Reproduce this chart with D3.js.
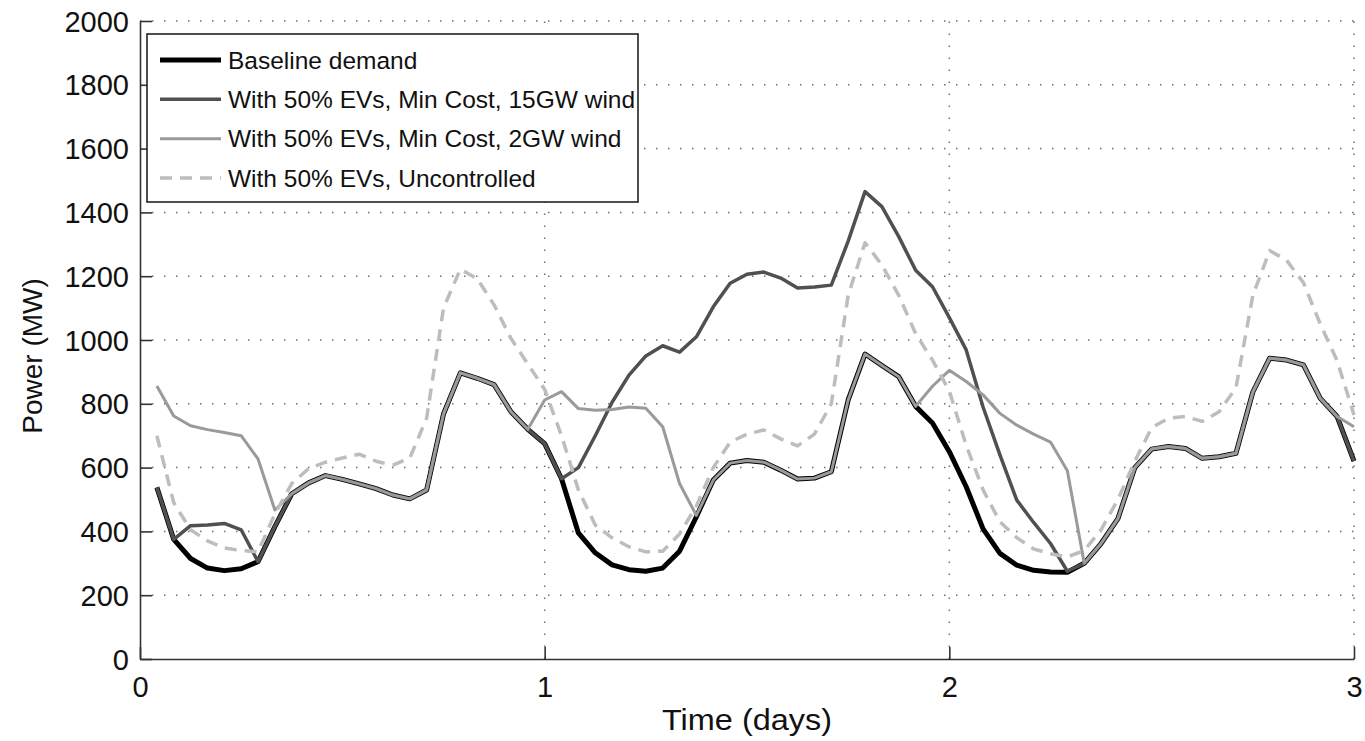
<!DOCTYPE html>
<html>
<head>
<meta charset="utf-8">
<script src="https://cdn.jsdelivr.net/npm/d3@7"></script>
<style>
  html, body { margin: 0; padding: 0; background: #fff; }
  svg { display: block; font-family: "Liberation Sans", Arial, Helvetica, sans-serif; }
</style>
</head>
<body>
<svg id="chart" width="1365" height="741"></svg>
<script>
// Hourly samples over three days (hour 1 .. 72)
const hourIndex = d3.range(1, 73);

// Power demand in MW, one value per hour
const baselineDemand = [
  538, 375, 315, 285, 277, 283, 305, 415, 518, 552, 575, 563,
  549, 534, 514, 502, 530, 768, 897, 880, 860, 775, 720, 675,
  565, 395, 333, 295, 280, 275, 285, 338, 446, 561, 614, 622,
  617, 592, 564, 567, 587, 812, 956, 920, 885, 792, 740, 650,
  540, 408, 331, 294, 278, 273, 272, 300, 362, 440, 600, 658,
  666, 660, 629, 634, 645, 837, 943, 937, 922, 817, 760, 620
];

const minCost15GW = [
  538, 375, 418, 420, 425, 405, 305, 415, 518, 552, 575, 563,
  549, 534, 514, 502, 530, 768, 897, 880, 860, 775, 720, 675,
  565, 600, 700, 805, 890, 950, 982, 962, 1010, 1104, 1178, 1206,
  1213, 1194, 1163, 1166, 1172, 1310, 1465, 1418, 1324, 1219, 1167, 1070,
  969, 790, 640, 498, 428, 362, 275, 300, 362, 440, 600, 658,
  666, 660, 629, 634, 645, 837, 943, 937, 922, 817, 760, 620
];

const minCost2GW = [
  856, 762, 731, 719, 710, 700, 627, 467, 518, 552, 575, 563,
  549, 534, 514, 502, 530, 768, 897, 880, 860, 775, 720, 812,
  838, 785, 780, 782, 790, 786, 728, 550, 450, 561, 614, 622,
  617, 592, 564, 567, 587, 812, 956, 920, 885, 792, 855, 905,
  870, 828, 770, 733, 705, 680, 590, 300, 362, 440, 600, 658,
  666, 660, 629, 634, 645, 837, 943, 937, 922, 817, 760, 728
];

const uncontrolled = [
  700, 490, 405, 370, 348, 340, 336, 455, 550, 597, 617, 630,
  642, 620, 608, 630, 755, 1100, 1222, 1192, 1110, 1005, 925, 845,
  700, 530, 420, 380, 352, 336, 338, 392, 480, 600, 680, 705,
  718, 690, 668, 705, 800, 1140, 1305, 1235, 1140, 1020, 937, 840,
  670, 530, 430, 380, 345, 330, 320, 340, 405, 500, 620, 725,
  755, 760, 745, 775, 850, 1140, 1280, 1250, 1180, 1050, 935, 765
];

const seriesNames = [
  "Baseline demand",
  "With 50% EVs, Min Cost, 15GW wind",
  "With 50% EVs, Min Cost, 2GW wind",
  "With 50% EVs, Uncontrolled"
];

const xTicks = [0, 1, 2, 3];
const yTicks = [0, 200, 400, 600, 800, 1000, 1200, 1400, 1600, 1800, 2000];

// Line styles, drawn in this order so the lighter curves sit on top
const styles = [
  { color: "#000000", width: 5,   dash: null },
  { color: "#505050", width: 3.5, dash: null },
  { color: "#9a9a9a", width: 3,   dash: null },
  { color: "#bdbdbd", width: 3.5, dash: "12,8" }
];
const seriesValues = [baselineDemand, minCost15GW, minCost2GW, uncontrolled];

const svg = d3.select("#chart");
const plotLeft = 140, plotRight = 1354, plotTop = 21, plotBottom = 659;

const x = d3.scaleLinear().domain([0, 3]).range([plotLeft, plotRight]);
const y = d3.scaleLinear().domain([0, 2000]).range([plotBottom, plotTop]);

// Dotted grid
const grid = svg.append("g").attr("stroke", "#707070").attr("stroke-width", 1.5)
  .attr("stroke-dasharray", "1.5,10.5").attr("fill", "none");
grid.selectAll("line.h").data(yTicks.filter(d => d > 0)).join("line")
  .attr("x1", plotLeft).attr("x2", plotRight)
  .attr("y1", d => y(d)).attr("y2", d => y(d));
grid.selectAll("line.v").data(xTicks.filter(d => d > 0)).join("line")
  .attr("x1", d => x(d)).attr("x2", d => x(d))
  .attr("y1", plotBottom).attr("y2", plotTop);

// Curves
const line = d3.line()
  .x((v, i) => x(hourIndex[i] / 24))
  .y(v => y(v));

seriesValues.forEach((vals, k) => {
  const st = styles[k];
  svg.append("path")
    .datum(vals)
    .attr("d", line)
    .attr("fill", "none")
    .attr("stroke", st.color)
    .attr("stroke-width", st.width)
    .attr("stroke-linejoin", "round")
    .attr("stroke-dasharray", st.dash);
});

// Axes with inward ticks
const axisColor = "#333";
const yAxis = d3.axisLeft(y).tickValues(yTicks).tickFormat(d3.format("d"))
  .tickSizeInner(-12).tickSizeOuter(0).tickPadding(11);
const xAxis = d3.axisBottom(x).tickValues(xTicks).tickFormat(d3.format("d"))
  .tickSizeInner(-12).tickSizeOuter(0).tickPadding(26);

const gy = svg.append("g").attr("transform", `translate(${plotLeft},0)`).call(yAxis);
const gx = svg.append("g").attr("transform", `translate(0,${plotBottom})`).call(xAxis);

[gx, gy].forEach(g => {
  g.select(".domain").attr("stroke", axisColor).attr("stroke-width", 1.6);
  g.selectAll(".tick line").attr("stroke", axisColor).attr("stroke-width", 1.6);
  g.selectAll(".tick text")
    .attr("fill", "#111")
    .style("font-size", "29px")
    .style("font-family", "'Liberation Sans', Arial, Helvetica, sans-serif");
});
gy.selectAll(".tick text").attr("dy", "0.35em");
gx.selectAll(".tick text").attr("dy", "0.35em").attr("y", 28);

// Axis titles
svg.append("text")
  .attr("x", (plotLeft + plotRight) / 2).attr("y", 720)
  .attr("text-anchor", "middle").attr("dominant-baseline", "central")
  .attr("textLength", 170).attr("lengthAdjust", "spacingAndGlyphs")
  .style("font-size", "29px").attr("fill", "#111")
  .text("Time (days)");

svg.append("text")
  .attr("transform", `translate(32,356) rotate(-90)`)
  .attr("text-anchor", "middle").attr("dominant-baseline", "central")
  .style("font-size", "28px").attr("fill", "#111")
  .text("Power (MW)");

// Legend
const legend = svg.append("g");
legend.append("rect")
  .attr("x", 147).attr("y", 34).attr("width", 491).attr("height", 168)
  .attr("fill", "#fff").attr("stroke", "#222").attr("stroke-width", 1.6);

const rowY = d3.scalePoint().domain(seriesNames).range([60, 178]);
seriesNames.forEach((name, k) => {
  const st = styles[k];
  legend.append("line")
    .attr("x1", 160).attr("x2", 221)
    .attr("y1", rowY(name)).attr("y2", rowY(name))
    .attr("stroke", st.color).attr("stroke-width", st.width)
    .attr("stroke-dasharray", st.dash);
  legend.append("text")
    .attr("x", 228).attr("y", rowY(name))
    .attr("dominant-baseline", "central")
    .style("font-size", "24.5px").attr("fill", "#111")
    .text(name);
});
</script>
</body>
</html>
